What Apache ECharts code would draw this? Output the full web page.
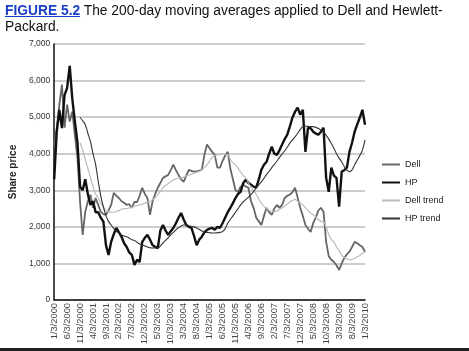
<!DOCTYPE html>
<html>
<head>
<meta charset="utf-8">
<script src="https://cdn.jsdelivr.net/npm/echarts@6/dist/echarts.min.js"></script>
<style>
body { margin: 0; background: #fff; }
#wrap { position: relative; width: 469px; height: 351px; overflow: hidden; }
#title { position: absolute; left: 5px; top: 3px; width: 460px; font-family: "Liberation Sans", Arial, sans-serif; font-size: 13.8px; line-height: 16px; color: #111; z-index: 2; }
#title a { color: #1a3fc8; font-weight: bold; text-decoration: underline; }
#chart { position: absolute; left: 0; top: 0; width: 469px; height: 351px; }
</style>
</head>
<body>
<div id="wrap">
<div id="title"><a>FIGURE 5.2</a> The 200-day moving averages applied to Dell and Hewlett-Packard.</div>
<div id="chart"></div>
</div>
<script>
// monthly readings, Jan 2000 .. Jan 2010
var dell = [4200, 4700, 5340, 5890, 4710, 5340, 4880, 5150, 4500, 3890,
	2680, 1780, 2410, 2700, 2880, 2520, 2790, 2600, 2410, 2350,
	2330, 2450, 2600, 2930, 2850, 2790, 2700, 2660, 2600, 2620,
	2520, 2680, 2680, 2850, 3070, 2900, 2790, 2330, 2700, 2900,
	3070, 3200, 3340, 3380, 3420, 3550, 3700, 3550, 3420, 3300,
	3230, 3400, 3560, 3530, 3510, 3520, 3540, 3560, 3970, 4250,
	4150, 4050, 3970, 3620, 3620, 3800, 3950, 4050, 3600, 3300,
	3000, 2960, 3100, 3150, 3100, 3070, 2700, 2520, 2250, 2150,
	2050, 2300, 2520, 2400, 2330, 2500, 2600, 2520, 2600, 2790,
	2850, 2880, 2950, 3070, 2800, 2520, 2300, 2050, 1950, 1860,
	2100, 2250, 2450, 2520, 2410, 1590, 1200, 1100, 1040, 950,
	820, 1000, 1150, 1250, 1320, 1450, 1590, 1550, 1500, 1450, 1320];
var hp = [3300, 4600, 5200, 4700, 5600, 5800, 6400, 5500, 4880, 4300,
	3100, 3000, 3300, 2900, 2600, 2700, 2400, 2400, 2250, 2140,
	1500, 1230, 1590, 1800, 1970, 1850, 1730, 1550, 1450, 1300,
	1230, 960, 1100, 1040, 1590, 1700, 1780, 1650, 1500, 1450,
	1420, 1900, 2050, 1900, 1780, 1880, 1970, 2100, 2250, 2380,
	2200, 2050, 2000, 1970, 1750, 1500, 1650, 1730, 1850, 1920,
	1950, 1970, 1920, 2000, 1970, 2100, 2250, 2400, 2520, 2650,
	2790, 2900, 2960, 3200, 3290, 3200, 3150, 3100, 3070, 3300,
	3560, 3700, 3780, 4000, 4190, 4000, 3970, 4100, 4250, 4400,
	4520, 4750, 4990, 5150, 5260, 5070, 5200, 4050, 4710, 4700,
	4600, 4550, 4520, 4600, 4710, 3340, 2960, 3620, 3400, 3340,
	2550, 3510, 3550, 3620, 4050, 4300, 4600, 4800, 4990, 5200, 4790];
var dellTrend = [null, null, null, null, null, null, null, null, null, null,
	4300, 4100, 3850, 3600, 3350, 3100, 2900, 2790, 2650, 2550,
	2450, 2420, 2400, 2400, 2420, 2450, 2480, 2500, 2500, 2520,
	2540, 2560, 2580, 2600, 2620, 2650, 2680, 2700, 2740, 2800,
	2880, 2970, 3070, 3130, 3180, 3230, 3280, 3310, 3330, 3340,
	3360, 3390, 3420, 3440, 3470, 3490, 3520, 3560, 3620, 3700,
	3800, 3900, 3950, 3970, 3980, 3990, 3990, 3970, 3850, 3750,
	3700, 3600, 3500, 3400, 3340, 3200, 3080, 2980, 2900, 2750,
	2650, 2560, 2500, 2450, 2420, 2410, 2430, 2480, 2520, 2570,
	2620, 2680, 2720, 2750, 2700, 2650, 2600, 2520, 2450, 2380,
	2330, 2270, 2200, 2150, 2140, 1980, 1800, 1650, 1590, 1450,
	1350, 1230, 1170, 1120, 1100, 1110, 1140, 1180, 1220, 1270, 1320];
var hpTrend = [null, null, null, null, null, null, null, null, null, null,
	4990, 4900, 4790, 4560, 4330, 4000, 3700, 3250, 2850, 2550,
	2300, 2150, 2050, 1950, 1880, 1830, 1780, 1750, 1730, 1690,
	1650, 1630, 1580, 1530, 1500, 1480, 1450, 1430, 1420, 1420,
	1420, 1480, 1560, 1630, 1700, 1780, 1850, 1920, 1980, 2020,
	2050, 2050, 2030, 2010, 2000, 1970, 1930, 1890, 1860, 1850,
	1840, 1830, 1830, 1840, 1850, 1870, 1950, 2100, 2200, 2300,
	2400, 2500, 2600, 2680, 2750, 2810, 2880, 2970, 3060, 3150,
	3230, 3330, 3430, 3520, 3620, 3710, 3800, 3900, 3990, 4080,
	4180, 4290, 4380, 4460, 4560, 4660, 4740, 4750, 4750, 4740,
	4740, 4720, 4690, 4650, 4600, 4500, 4400, 4280, 4150, 4000,
	3880, 3780, 3650, 3550, 3510, 3560, 3700, 3820, 3950, 4100, 4380];

// month labels m/3/yyyy
var dates = [];
for (var i = 0; i < dell.length; i++) {
	dates.push((i % 12 + 1) + '/3/' + (2000 + Math.floor(i / 12)));
}

var myChart = echarts.init(document.getElementById('chart'));
var font = '"Liberation Sans", Arial, sans-serif';
var option = {
	animation: false,
	textStyle: { fontFamily: font },
	grid: {
		left: 45,
		right: 104,
		top: 44,
		bottom: 51
	},
	legend: {
		orient: 'vertical',
		left: 377,
		top: 155,
		itemWidth: 18,
		itemHeight: 2,
		itemGap: 9,
		icon: 'rect',
		textStyle: { fontSize: 9, color: '#222', fontFamily: font },
		data: ['Dell', 'HP', 'Dell trend', 'HP trend']
	},
	xAxis: {
		type: 'category',
		boundaryGap: false,
		data: dates,
		axisLine: { lineStyle: { color: '#111', width: 1.5 } },
		axisTick: { show: false },
		axisLabel: {
			interval: 4,
			rotate: 90,
			fontSize: 9.3,
			color: '#444',
			margin: 3,
			fontFamily: font
		},
		splitLine: { show: false }
	},
	yAxis: {
		type: 'value',
		min: 0,
		max: 7000,
		interval: 1000,
		name: 'Share price',
		nameLocation: 'middle',
		nameGap: 30,
		nameTextStyle: { fontSize: 10, fontWeight: 'bold', color: '#222', fontFamily: font },
		axisLine: { show: true, lineStyle: { color: '#111', width: 1.5 } },
		axisTick: { show: false },
		axisLabel: {
			fontSize: 8.5,
			color: '#333',
			margin: 4,
			fontFamily: font,
			formatter: function(v) { return v.toLocaleString('en-US'); }
		},
		splitLine: { lineStyle: { color: '#bdbdbd', width: 1.5 } }
	},
	series: [{
		name: 'Dell',
		type: 'line',
		data: dell,
		showSymbol: false,
		color: '#666',
		lineStyle: { width: 1.8, color: '#666' }
	}, {
		name: 'HP',
		type: 'line',
		data: hp,
		showSymbol: false,
		color: '#111',
		lineStyle: { width: 2.4, color: '#111' }
	}, {
		name: 'Dell trend',
		type: 'line',
		data: dellTrend,
		showSymbol: false,
		smooth: true,
		color: '#bbb',
		lineStyle: { width: 1.2, color: '#bbb' }
	}, {
		name: 'HP trend',
		type: 'line',
		data: hpTrend,
		showSymbol: false,
		smooth: true,
		color: '#333',
		lineStyle: { width: 1.1, color: '#333' }
	}],
	graphic: [{
		type: 'rect',
		shape: { x: 0, y: 348, width: 469, height: 3 },
		style: { fill: '#222' }
	}]
};
myChart.setOption(option);
</script>
</body>
</html>
